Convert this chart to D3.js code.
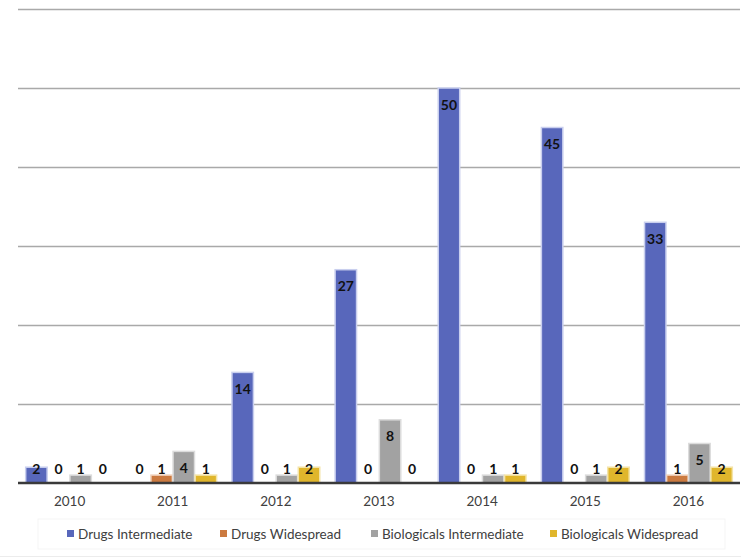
<!DOCTYPE html>
<html>
<head>
<meta charset="utf-8">
<script src="https://cdn.jsdelivr.net/npm/d3@7"></script>
<style>
  html, body { margin: 0; padding: 0; background: #fff; }
  svg { display: block; }
</style>
</head>
<body>
<svg id="chart" width="741" height="559"></svg>
<script>
const years = ["2010", "2011", "2012", "2013", "2014", "2015", "2016"];
const seriesNames = ["Drugs Intermediate", "Drugs Widespread", "Biologicals Intermediate", "Biologicals Widespread"];
const drugsIntermediate = [2, 0, 14, 27, 50, 45, 33];
const drugsWidespread = [0, 1, 0, 0, 0, 0, 1];
const biologicalsIntermediate = [1, 4, 1, 8, 1, 1, 5];
const biologicalsWidespread = [0, 1, 2, 0, 1, 2, 2];
const yTicks = [0, 10, 20, 30, 40, 50, 60];

const seriesValues = [drugsIntermediate, drugsWidespread, biologicalsIntermediate, biologicalsWidespread];
const colors = ["#5867bb", "#cb7a40", "#a2a2a2", "#e0b62c"];
const edge = ["#c9cfee", "#f0d2bc", "#dcdcdc", "#f4e4a8"];

const svg = d3.select("#chart");
const font = "Lato, 'Open Sans', sans-serif";

const x0 = d3.scaleBand().domain(years).range([18, 740]).paddingInner(0.136).paddingOuter(0.068);
const x1 = d3.scaleBand().domain(d3.range(seriesNames.length)).range([0, x0.bandwidth()]).padding(0.03);
const y = d3.scaleLinear().domain([0, 60]).range([483, 9]);

// gridlines
const gy = d3.axisLeft(y).tickValues(yTicks.slice(1)).tickSize(-(740 - 18)).tickFormat("");
svg.append("g").attr("transform", "translate(18,0)").call(gy)
  .call(g => g.select(".domain").remove())
  .call(g => g.selectAll("line").attr("stroke", "#a9a9a9").attr("stroke-width", 1.6));

// bars
const groups = svg.append("g").selectAll("g").data(years).join("g")
  .attr("transform", d => `translate(${x0(d)},0)`);

groups.each(function(yr, i) {
  const g = d3.select(this);
  seriesValues.forEach((vals, s) => {
    const v = vals[i];
    if (v > 0) {
      g.append("rect")
        .attr("x", x1(s))
        .attr("y", y(v))
        .attr("width", x1.bandwidth())
        .attr("height", y(0) - y(v))
        .attr("fill", colors[s])
        .attr("stroke", edge[s])
        .attr("stroke-width", 1.5);
    }
  });
  seriesValues.forEach((vals, s) => {
    const v = vals[i];
    const cy = Math.min(y(v) + 16.5, 469);
    g.append("text")
      .attr("x", x1(s) + x1.bandwidth() / 2)
      .attr("y", cy)
      .attr("dy", "0.36em")
      .attr("text-anchor", "middle")
      .attr("font-family", font)
      .attr("font-weight", "bold")
      .attr("font-size", 14)
      .attr("fill", "#111")
      .text(v);
  });
});

// baseline
svg.append("line").attr("x1", 18).attr("x2", 740).attr("y1", y(0)).attr("y2", y(0))
  .attr("stroke", "#3a3a3a").attr("stroke-width", 2.6);

// x axis labels
const xa = d3.axisBottom(x0).tickSize(0).tickPadding(13);
svg.append("g").attr("transform", `translate(0,${y(0)})`).call(xa)
  .call(g => g.select(".domain").remove())
  .call(g => g.selectAll("text").attr("font-family", font).attr("font-size", 13.5).attr("fill", "#404040"));

// legend
svg.append("rect").attr("x", 38).attr("y", 519).attr("width", 687).attr("height", 30)
  .attr("fill", "none").attr("stroke", "#f5f5f5").attr("stroke-width", 1);
svg.append("line").attr("x1", 0).attr("x2", 741).attr("y1", 556.5).attr("y2", 556.5)
  .attr("stroke", "#ececec").attr("stroke-width", 1);

const legendX = [67, 220, 371, 550];
const lg = svg.append("g").selectAll("g").data(seriesNames).join("g")
  .attr("transform", (d, i) => `translate(${legendX[i]},534)`);
lg.append("rect").attr("x", 0).attr("y", -4).attr("width", 7).attr("height", 7)
  .attr("fill", (d, i) => colors[i]);
lg.append("text").attr("x", 11).attr("y", 0).attr("dy", "0.35em")
  .attr("font-family", font).attr("font-size", 13.5).attr("fill", "#404040")
  .text(d => d);
</script>
</body>
</html>
